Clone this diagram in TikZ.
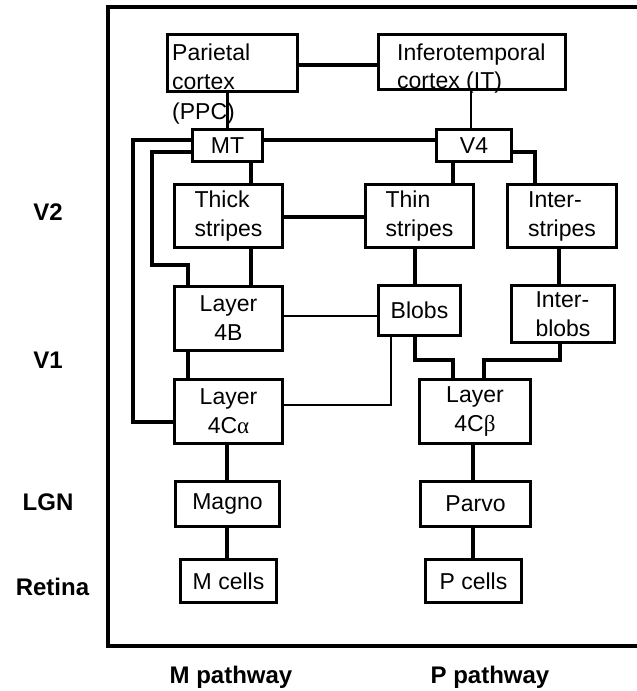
\documentclass[tikz,border=0pt]{standalone}
\usepackage{fontspec}
\setmainfont{Liberation Sans}
\newfontfamily\grk{Liberation Serif}
\begin{document}
\begin{tikzpicture}[x=1pt,y=-1pt,
  box/.style={draw, line width=3.2pt, rectangle, inner sep=0pt, font=\fontsize{23}{29}\selectfont, align=center},
  lbox/.style={box, align=left},
  lab/.style={font=\fontsize{24}{28}\selectfont\bfseries, anchor=base, inner sep=0pt},
  txt/.style={font=\fontsize{23}{29}\selectfont, anchor=base west, inner sep=0pt},
  conn/.style={line width=3.2pt},
  thinc/.style={line width=2.2pt},
  frame/.style={line width=4pt}]
\useasboundingbox (0,0) rectangle (637,691);

% frame (right side runs off the picture)
\draw[frame] (650,7) -- (108,7) -- (108,646) -- (650,646);

% boxes
\node[box, minimum width=130, minimum height=57] (ppc) at (232.5,63) {};
\node[txt] (ppcA) at (172,60) {Parietal};
\node[txt] (ppcB) at (172,89) {cortex};
\node[txt] (ppcC) at (172,119) {(PPC)};
\node[box, minimum width=187, minimum height=55] (it) at (472,62) {};
\node[txt] (itA) at (397,60) {Inferotemporal};
\node[txt] (itB) at (397,88) {cortex (IT)};

\node[box, minimum width=70, minimum height=32] (mt) at (227.5,145.5) {MT};
\node[box, minimum width=75, minimum height=32] (v4) at (474,145.5) {V4};

\node[lbox, minimum width=108, minimum height=63] (thick) at (228.5,216) {Thick\\stripes};
\node[lbox, minimum width=108, minimum height=63] (thin) at (419.5,216) {Thin\\stripes};
\node[lbox, minimum width=109, minimum height=63] (inter) at (562,216) {Inter-\\stripes};

\node[box, minimum width=108, minimum height=64] (l4b) at (228.5,318.5) {Layer\\4B};
\node[box, minimum width=82, minimum height=50] (blobs) at (419.5,310.5) {Blobs};
\node[lbox, minimum width=103, minimum height=57] (iblobs) at (563,314) {Inter-\\blobs};

\node[box, minimum width=108, minimum height=64] (l4ca) at (228.5,411.5) {Layer\\4C{\grk α}};
\node[box, minimum width=111, minimum height=64] (l4cb) at (475,411.5) {Layer\\4C{\grk β}};

\node[box, minimum width=104, minimum height=45] (magno) at (227.5,504) {Magno};
\node[box, minimum width=110, minimum height=45] (parvo) at (475.5,504) {Parvo};
\node[box, minimum width=96, minimum height=43] (mcells) at (228.5,581) {M cells};
\node[box, minimum width=96, minimum height=43] (pcells) at (473.5,581) {P cells};

% side and bottom labels
\node[lab] (v2l) at (48,220) {V2};
\node[lab] (v1l) at (48,368) {V1};
\node[lab] (lgnl) at (48,510) {LGN};
\node[lab] (retl) at (52.5,595) {Retina};
\node[lab] (mpath) at (231,683) {M pathway};
\node[lab] (ppath) at (490,683) {P pathway};

% connectors
\draw[conn] (ppc.east |- 0,65) -- (it.west |- 0,65);
\draw[thinc] (mt.north) -- (mt.north |- ppc.south);
\draw[thinc] (it.south -| 471,0) -- (v4.north -| 471,0);
\draw[conn] (mt.east |- 0,140) -- (v4.west |- 0,140);
\draw[conn] (mt.west |- 0,140) -- (133,140) -- (133,422) -- (l4ca.west |- 0,422);
\draw[conn] (mt.west |- 0,152) -- (152,152) -- (152,265) -- (188,265) -- (l4b.north -| 188,0);
\draw[conn] (mt.south -| 251,0) -- (thick.north -| 251,0);
\draw[conn] (thick.east |- 0,217) -- (thin.west |- 0,217);
\draw[conn] (thick.south -| 251,0) -- (l4b.north -| 251,0);
\draw[conn] (l4b.south -| 188,0) -- (l4ca.north -| 188,0);
\draw[thinc] (l4b.east |- 0,316) -- (blobs.west |- 0,316);
\draw[conn] (v4.south -| 453,0) -- (thin.north -| 453,0);
\draw[conn] (v4.east |- 0,152) -- (535,152) -- (inter.north -| 535,0);
\draw[conn] (thin.south -| 415,0) -- (blobs.north -| 415,0);
\draw[conn] (inter.south -| 559,0) -- (iblobs.north -| 559,0);
\draw[conn] (blobs.south -| 415,0) -- (415,360) -- (453,360) -- (l4cb.north -| 453,0);
\draw[conn] (iblobs.south -| 560,0) -- (560,360) -- (484,360) -- (l4cb.north -| 484,0);
\draw[thinc] (blobs.south -| 391,0) -- (391,405) -- (l4ca.east |- 0,405);
\draw[conn] (l4ca.south -| 227,0) -- (magno.north -| 227,0);
\draw[conn] (magno.south -| 227,0) -- (mcells.north -| 227,0);
\draw[conn] (l4cb.south -| 473,0) -- (parvo.north -| 473,0);
\draw[conn] (parvo.south -| 473,0) -- (pcells.north -| 473,0);
\end{tikzpicture}
\end{document}
